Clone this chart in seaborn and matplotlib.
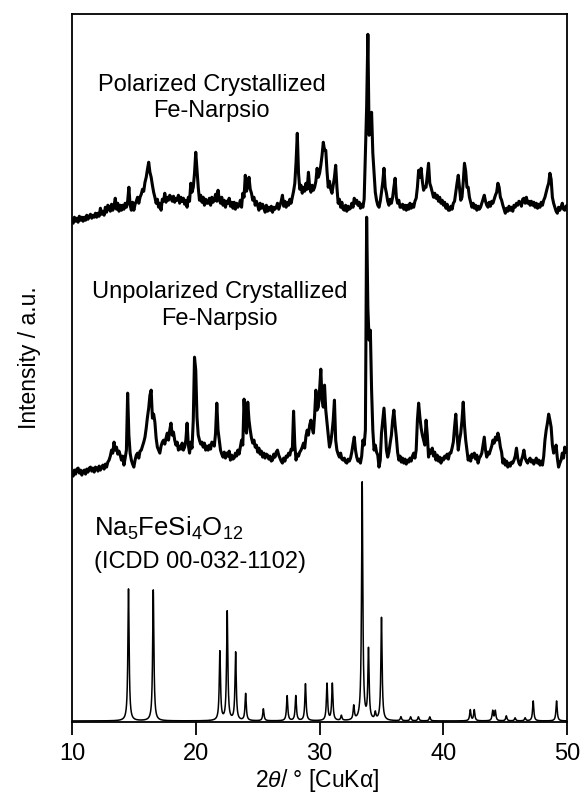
import numpy as np
import pandas as pd
import matplotlib
matplotlib.use("Agg")
import matplotlib.pyplot as plt
import seaborn as sns

# measurement step of the two diffractograms
tt_step = np.round(np.arange(10.0, 50.05, 0.1), 1)

pol_int = [8, 4, 10, 6, 9, 5, 11, 7, 10, 6,
           10, 7, 12, 8, 11, 13, 9, 12, 10, 14,
           10, 14, 11, 19, 13, 16, 12, 20, 15, 22,
           20, 16, 23, 17, 21, 29, 18, 24, 16, 22,
           17, 22, 18, 24, 20, 26, 40, 22, 17, 25,
           17, 23, 26, 30, 24, 30, 33, 38, 36, 45,
           50, 58, 65, 55, 50, 42, 35, 30, 24, 28,
           20, 24, 17, 28, 26, 34, 25, 30, 27, 32,
           30, 26, 31, 25, 29, 27, 32, 24, 30, 26,
           29, 23, 27, 20, 30, 26, 44, 35, 40, 54,
           75, 57, 40, 27, 32, 25, 30, 22, 28, 24,
           24, 29, 22, 30, 25, 27, 33, 26, 37, 28,
           24, 30, 22, 27, 20, 26, 24, 29, 21, 25,
           19, 25, 18, 24, 20, 22, 27, 20, 34, 30,
           52, 36, 42, 50, 38, 34, 27, 30, 22, 26,
           22, 17, 24, 19, 23, 19, 15, 22, 16, 20,
           17, 21, 15, 20, 18, 20, 24, 18, 22, 26,
           32, 21, 26, 20, 25, 22, 28, 24, 30, 36,
           44, 65, 94, 54, 38, 42, 34, 40, 36, 44,
           38, 55, 40, 35, 42, 37, 40, 46, 59, 50,
           54, 62, 72, 85, 77, 77, 56, 40, 46, 38,
           34, 42, 50, 62, 40, 24, 28, 20, 25, 18,
           17, 22, 16, 21, 18, 19, 24, 20, 29, 24,
           27, 22, 25, 19, 23, 20, 28, 74, 120, 193,
           92, 100, 115, 74, 54, 35, 27, 22, 20, 26,
           35, 45, 59, 40, 34, 26, 22, 28, 24, 30,
           40, 49, 30, 24, 27, 20, 20, 23, 18, 22,
           17, 22, 18, 24, 19, 23, 20, 26, 29, 40,
           57, 50, 59, 46, 37, 40, 40, 52, 64, 44,
           40, 35, 30, 34, 29, 32, 26, 30, 24, 27,
           22, 25, 19, 23, 17, 17, 21, 18, 24, 26,
           35, 44, 52, 40, 27, 30, 45, 64, 56, 40,
           40, 30, 25, 20, 24, 19, 22, 17, 21, 18,
           20, 24, 28, 32, 26, 22, 20, 25, 21, 26,
           24, 28, 32, 35, 44, 40, 30, 27, 22, 18,
           14, 19, 16, 21, 17, 20, 16, 22, 20, 24,
           22, 26, 25, 21, 28, 29, 24, 30, 24, 26,
           22, 26, 22, 25, 20, 24, 19, 23, 20, 25,
           22, 27, 30, 35, 40, 44, 54, 48, 30, 24,
           20, 16, 14, 20, 17, 20, 24, 18, 17, 21,
           22]

# unpolarized crystallized Fe-Narpsio
unp_int = [8, 4, 10, 6, 11, 12, 7, 10, 5, 9,
           10, 6, 11, 8, 12, 13, 9, 12, 8, 13,
           12, 9, 14, 10, 13, 15, 11, 16, 13, 18,
           20, 24, 30, 27, 38, 30, 33, 26, 29, 25,
           20, 24, 15, 22, 30, 87, 45, 27, 20, 16,
           13, 20, 25, 27, 22, 29, 30, 34, 38, 43,
           52, 63, 72, 85, 90, 62, 66, 58, 42, 33,
           30, 27, 34, 38, 40, 36, 42, 47, 40, 50,
           57, 45, 48, 40, 35, 38, 30, 34, 31, 37,
           30, 33, 40, 57, 35, 27, 38, 32, 60, 123,
           110, 63, 45, 40, 36, 38, 33, 37, 30, 34,
           30, 35, 31, 38, 37, 34, 47, 77, 50, 40,
           30, 26, 23, 28, 22, 27, 24, 29, 20, 25,
           21, 22, 27, 24, 30, 26, 33, 40, 35, 81,
           55, 47, 78, 60, 50, 42, 37, 40, 33, 35,
           28, 32, 26, 29, 23, 27, 22, 26, 25, 21,
           24, 19, 20, 26, 23, 28, 30, 25, 22, 19,
           17, 22, 19, 24, 23, 27, 25, 31, 30, 69,
           35, 20, 26, 24, 28, 30, 33, 37, 32, 44,
           50, 45, 55, 60, 52, 47, 65, 90, 70, 73,
           90, 111, 80, 73, 95, 70, 57, 45, 33, 38,
           47, 60, 80, 40, 30, 26, 23, 27, 21, 20,
           22, 18, 17, 21, 19, 22, 28, 36, 43, 30,
           23, 19, 21, 17, 24, 40, 35, 50, 263, 172,
           140, 150, 90, 50, 30, 35, 28, 25, 13, 20,
           47, 60, 72, 53, 30, 23, 28, 37, 45, 60,
           70, 55, 43, 28, 20, 24, 18, 22, 17, 21,
           16, 20, 18, 22, 19, 24, 27, 22, 30, 60,
           77, 63, 52, 45, 40, 35, 60, 45, 23, 30,
           27, 32, 24, 28, 20, 25, 19, 23, 17, 22,
           20, 24, 22, 26, 21, 27, 27, 32, 38, 53,
           66, 45, 30, 40, 47, 60, 78, 55, 40, 30,
           20, 24, 19, 26, 23, 27, 21, 25, 17, 22,
           24, 27, 35, 43, 30, 23, 28, 26, 30, 34,
           40, 37, 43, 40, 47, 42, 33, 28, 17, 21,
           15, 19, 13, 17, 14, 18, 17, 20, 24, 32,
           22, 17, 15, 20, 24, 30, 22, 19, 17, 20,
           22, 18, 20, 16, 19, 22, 17, 20, 15, 19,
           15, 24, 40, 50, 57, 66, 60, 53, 35, 27,
           30, 35, 22, 13, 17, 20, 27, 22, 33, 28,
           30]

# Na5FeSi4O12 reference card (ICDD 00-032-1102): peak positions / heights
ref_pos = [14.57, 16.57, 21.95, 22.54, 23.22, 24.03, 25.46, 27.38, 28.08, 28.86, 30.6, 31.03,
           31.76, 32.76, 33.44, 33.95, 34.5, 35.0, 36.57, 37.35, 37.98, 38.9, 42.17, 42.49,
           43.98, 44.19, 45.08, 45.79, 46.6, 47.25, 49.14]
ref_int = [132, 131, 69, 109, 68, 27, 12, 25, 25, 37, 37, 37,
           5, 14, 238, 70, 7, 103, 4, 4, 4, 4, 11, 11,
           10, 10, 5, 3, 3, 20, 20]

offsets = {"pol": 495, "unp": 242, "ref": 1}

# reference pattern drawn from the peak list with Lorentzian lines
tt_fine = np.arange(10, 50.001, 0.01)
hwhm = 0.06
ref_profile = np.zeros_like(tt_fine)
for p, h in zip(ref_pos, ref_int):
    ref_profile += h / (1 + ((tt_fine - p) / hwhm) ** 2)

df = pd.concat([
    pd.DataFrame({"tt": tt_step, "I": np.array(pol_int) + offsets["pol"], "s": "pol"}),
    pd.DataFrame({"tt": tt_step, "I": np.array(unp_int) + offsets["unp"], "s": "unp"}),
    pd.DataFrame({"tt": tt_fine, "I": ref_profile + offsets["ref"], "s": "ref"}),
])

sns.set_style("ticks")
plt.rcParams["font.family"] = ["Liberation Sans", "DejaVu Sans"]
plt.rcParams["mathtext.fontset"] = "custom"
plt.rcParams["mathtext.rm"] = "Liberation Sans"
plt.rcParams["mathtext.it"] = "Liberation Sans:italic"
plt.rcParams["text.color"] = "black"
plt.rcParams["axes.labelcolor"] = "black"
plt.rcParams["xtick.color"] = "black"

fig = plt.figure(figsize=(5.8, 7.96), dpi=100)
ax = fig.add_axes([0.124, 0.093, 0.854, 0.889])

for s, lw in [("pol", 2.2), ("unp", 2.2), ("ref", 1.1)]:
    sns.lineplot(data=df[df["s"] == s], x="tt", y="I", color="black", lw=lw,
                 sort=False, estimator=None, ax=ax, legend=False)

ax.set_xlim(10, 50)
ax.set_ylim(0, 708)
ax.set_xticks([10, 20, 30, 40, 50])
ax.set_yticks([])
ax.tick_params(axis="x", direction="out", length=9, width=1.3, labelsize=17, pad=6)
for sp in ax.spines.values():
    sp.set_linewidth(1.3)
    sp.set_color("black")

ax.set_xlabel("2$\\theta$/ ° [CuKα]", fontsize=16.5)
ax.set_ylabel("Intensity / a.u.", fontsize=16.5)
ax.xaxis.set_label_coords(0.495, -0.063)
ax.yaxis.set_label_coords(-0.062, 0.515)

fs = 17
ax.text(21.3, 637, "Polarized Crystallized", ha="center", va="center", fontsize=fs)
ax.text(21.3, 611, "Fe-Narpsio", ha="center", va="center", fontsize=fs)
ax.text(21.9, 430, "Unpolarized Crystallized", ha="center", va="center", fontsize=fs)
ax.text(21.9, 403, "Fe-Narpsio", ha="center", va="center", fontsize=fs)
ax.text(11.75, 186, "$\\mathregular{Na_5FeSi_4O_{12}}$", ha="left", va="baseline", fontsize=18.5)
ax.text(11.75, 160, "(ICDD 00-032-1102)", ha="left", va="center", fontsize=fs)

fig.savefig("out.png", dpi=100)
